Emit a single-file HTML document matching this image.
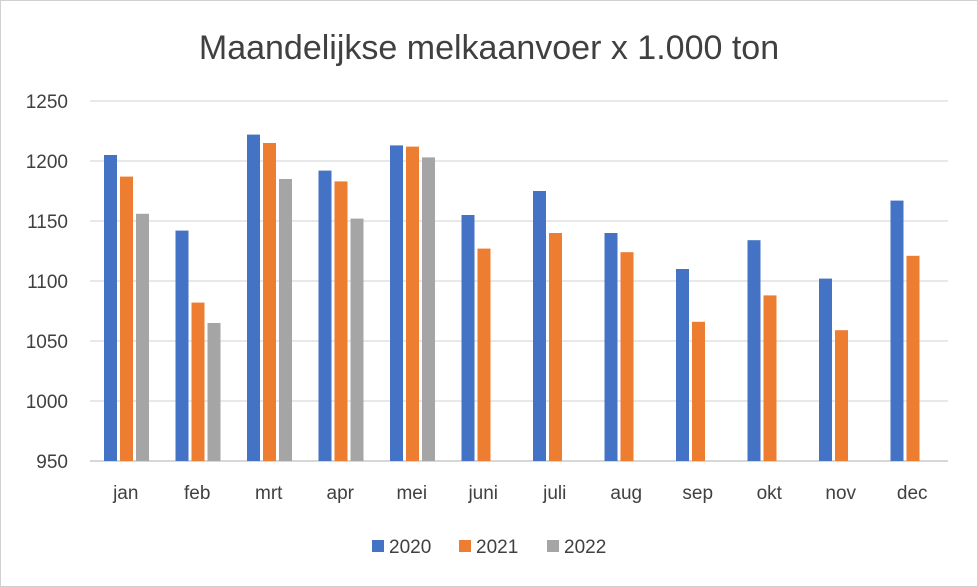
<!DOCTYPE html>
<html><head><meta charset="utf-8"><style>
body{margin:0;background:#fff;}
svg{display:block;font-family:"Liberation Sans",sans-serif;}
</style></head><body>
<svg id="chart" width="978" height="587">
<rect x="0.5" y="0.5" width="977" height="586" fill="#fff" stroke="#d0d0d0"/>
<text x="489" y="59" text-anchor="middle" font-size="34" fill="#404040">Maandelijkse melkaanvoer x 1.000 ton</text>
<g id="grid"></g><g id="bars"></g><g id="labels"></g>
<g id="legend"></g>
</svg>
<script>
const categories=["jan","feb","mrt","apr","mei","juni","juli","aug","sep","okt","nov","dec"];
const s2020=[1205,1142,1222,1192,1213,1155,1175,1140,1110,1134,1102,1167];
const s2021=[1187,1082,1215,1183,1212,1127,1140,1124,1066,1088,1059,1121];
const s2022=[1156,1065,1185,1152,1203,null,null,null,null,null,null,null];
const yTicks=[950,1000,1050,1100,1150,1200,1250];
const seriesNames=["2020","2021","2022"];
const colors=["#4472c4","#ed7d31","#a5a5a5"];
const NS="http://www.w3.org/2000/svg";
const L=90,R=948,T=101,B=461,ymin=950,ymax=1250;
const y=v=>B-(v-ymin)/(ymax-ymin)*(B-T);
const step=(R-L)/categories.length;
function mk(t,a,p){const e=document.createElementNS(NS,t);for(const k in a)e.setAttribute(k,a[k]);p.appendChild(e);return e;}
const grid=document.getElementById('grid'),bars=document.getElementById('bars'),labels=document.getElementById('labels');
yTicks.forEach(v=>{
 const l=mk('line',{x1:L,x2:R,y1:y(v),y2:y(v),stroke:v===ymin?'#bfbfbf':'#d9d9d9','stroke-width':1.3},grid);
 
 
 const t=mk('text',{x:68,y:y(v)+7,'text-anchor':'end','font-size':19,fill:'#404040'},labels);
 t.textContent=v;
 
 
});
const all=[s2020,s2021,s2022];
categories.forEach((c,i)=>{
 const x0=L+i*step+14;
 all.forEach((s,j)=>{
  if(s[i]==null)return;
  const r=mk('rect',{x:x0+j*16,y:y(s[i]),width:13,height:B-y(s[i]),fill:colors[j]},bars);
  
  
 });
 const t=mk('text',{x:L+i*step+step/2,y:499,'text-anchor':'middle','font-size':19,fill:'#404040'},labels);
 t.textContent=c;
 
 
});
const lg=document.getElementById('legend');
[372,459,547].forEach((lx,j)=>{
 const g=mk('g',{},lg);
 
 
 mk('rect',{x:lx,y:540,width:12,height:12,fill:colors[j]},g);
 const t=mk('text',{x:lx+17,y:553,'font-size':19,fill:'#404040'},g);
 t.textContent=seriesNames[j];
});
</script>
</body></html>
